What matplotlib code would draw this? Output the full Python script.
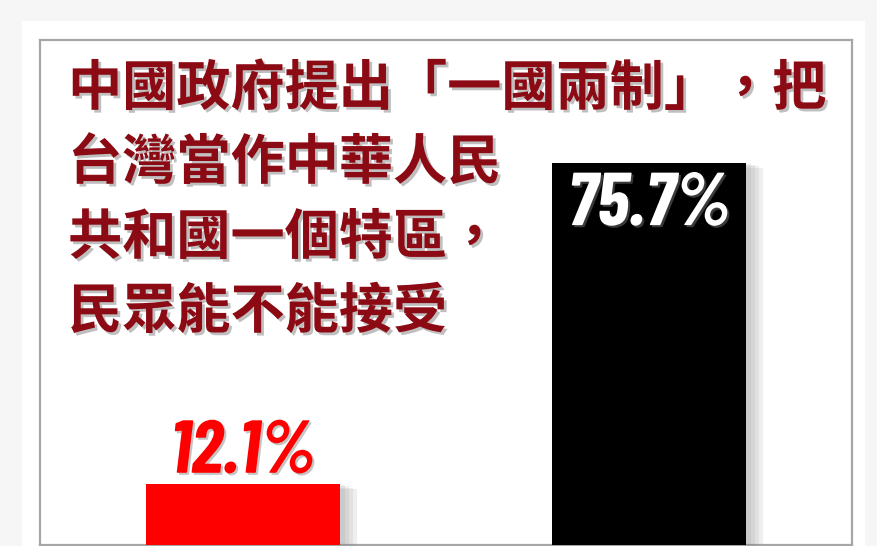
import matplotlib
matplotlib.use('Agg')
import matplotlib.pyplot as plt
import matplotlib.patheffects as pe
from matplotlib.patches import Rectangle

# data
categories = ['不能接受', '能接受']
values = [12.1, 75.7]
bar_colors = ['#ff0000', '#000000']
label_colors = ['#ff0000', '#ffffff']
title_lines = ['中國政府提出「一國兩制」，把',
               '台灣當作中華人民',
               '共和國一個特區，',
               '民眾能不能接受']

W, H = 877, 546
fig = plt.figure(figsize=(W / 100, H / 100), dpi=100)
fig.patch.set_facecolor('#f6f6f6')

# white panel behind the chart
fig.patches.append(Rectangle((22 / W, 0), (865 - 22) / W, 1 - 21 / H,
                             transform=fig.transFigure, facecolor='white',
                             edgecolor='none', zorder=-5))

ax = fig.add_axes([40 / W, 1 / H, (852 - 40) / W, (545 - 40) / H])
ax.set_zorder(2)
ax.set_facecolor('white')
ax.set_xlim(-0.5, 1.5)
ax.set_ylim(0, 100)
ax.set_xticks([])
ax.set_yticks([])
for s in ax.spines.values():
    s.set_color('#a6a6a6')
    s.set_linewidth(1.6)

# soft shadow for the bars
shadow = [pe.SimplePatchShadow(offset=(d, -d * 0.3), shadow_rgbFace='#808080',
                               alpha=0.12) for d in (3, 6, 9, 12)]
bars = ax.bar(range(len(values)), values, width=0.48, color=bar_colors,
              zorder=3)
for b in bars:
    b.set_path_effects(shadow + [pe.Normal()])

num_font = ['Barlow Condensed', 'Liberation Sans', 'DejaVu Sans']
txt_shadow = [pe.SimplePatchShadow(offset=(1.5, -1.5), shadow_rgbFace='#7f7f7f',
                                   alpha=0.45), pe.Normal()]
# red label above the short bar, white label inside the tall bar
ax.annotate(f'{values[0]}%', (0, values[0]), xytext=(0, 8),
            textcoords='offset points', ha='center', va='baseline',
            fontsize=54, fontweight='bold', fontstyle='italic',
            family=num_font, color=label_colors[0], zorder=5,
            path_effects=txt_shadow)
ax.annotate(f'{values[1]}%', (1, values[1]), xytext=(0, -7.5),
            textcoords='offset points', ha='center', va='top',
            fontsize=54, fontweight='bold', fontstyle='italic',
            family=num_font, color=label_colors[1], zorder=5,
            path_effects=txt_shadow)

# question text
title_shadow = [pe.SimplePatchShadow(offset=(2, -2), shadow_rgbFace='#8c8c8c',
                                     alpha=0.55), pe.Normal()]
line_tops = [62, 136, 211, 285]
for line, top in zip(title_lines, line_tops):
    fig.text(68 / W, 1 - top / H, line, ha='left', va='top', fontsize=39,
             fontweight='bold', color='#8b0a14',
             family=['Noto Sans CJK TC', 'DejaVu Sans'],
             path_effects=title_shadow, zorder=6)

fig.savefig('out.png', dpi=100, facecolor=fig.get_facecolor())
